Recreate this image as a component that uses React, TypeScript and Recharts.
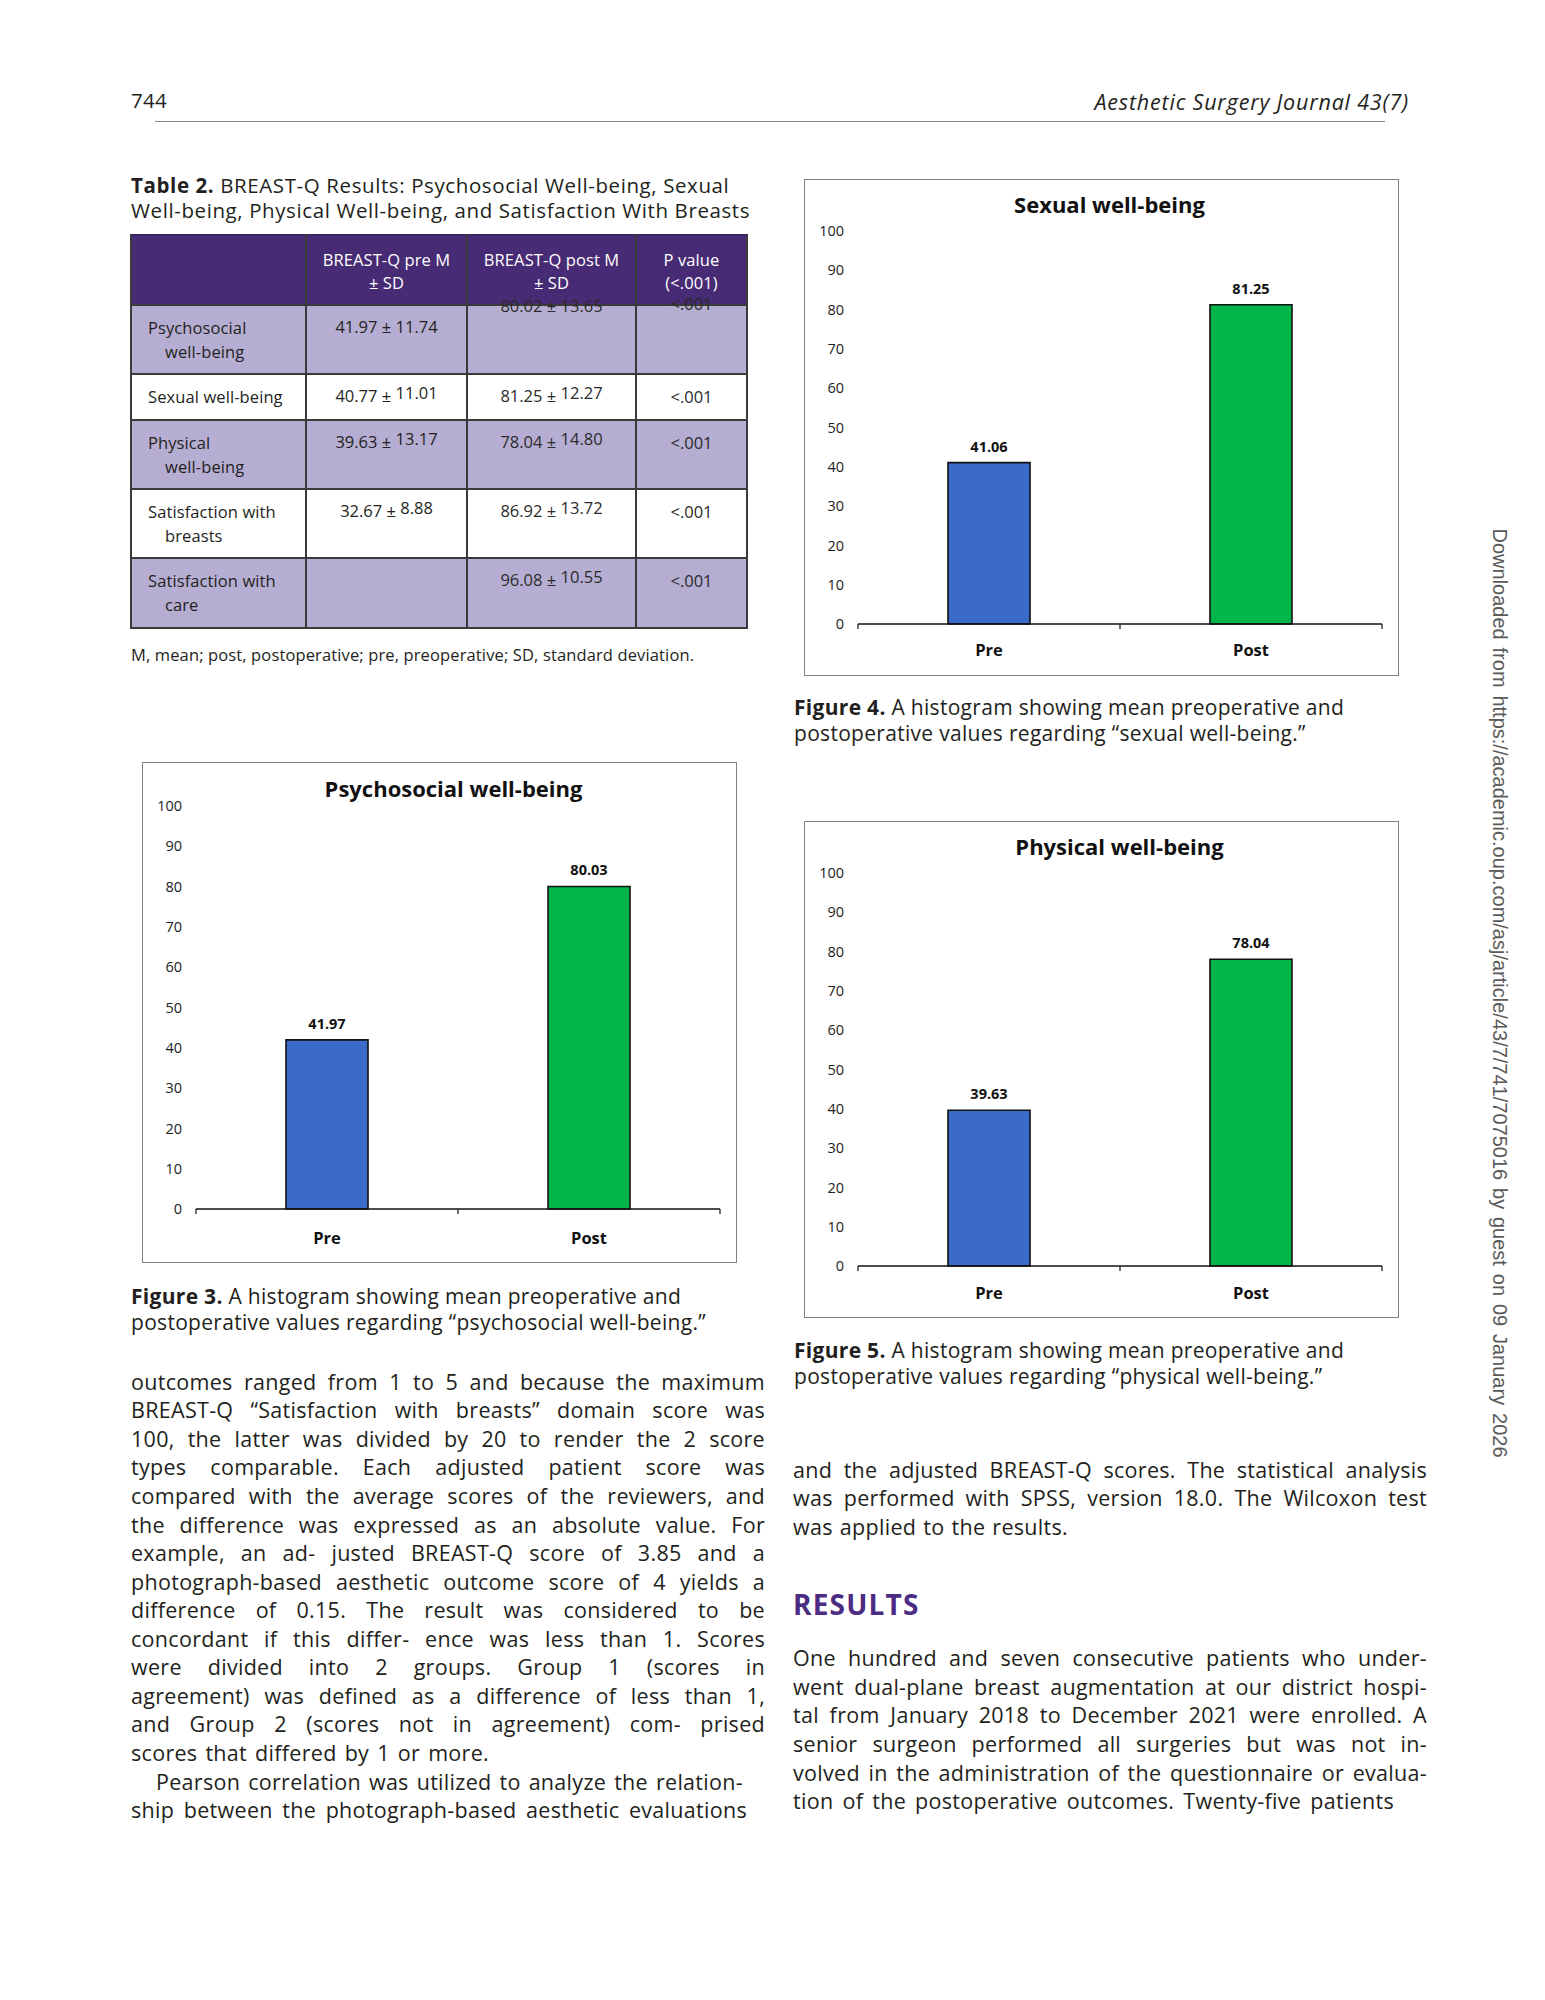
import React from "react";
import { BarChart, Bar, XAxis, YAxis, Cell, LabelList } from "recharts";

// Datos de las figuras
const categories = ["Pre", "Post"];
const psychosocialValues = [41.97, 80.03];
const sexualValues = [41.06, 81.25];
const physicalValues = [39.63, 78.04];
const yTicks = [0, 10, 20, 30, 40, 50, 60, 70, 80, 90, 100];
// bordes de categoría (enteros) y centros de categoría (medios)
const xTicks = [0, 0.5, 1, 1.5, 2];
const barColors = ["#3b6bc9", "#00b54a"];

// Datos de la tabla 2
const tableHeaders = [
  [],
  ["BREAST-Q pre M", "± SD"],
  ["BREAST-Q post M", "± SD"],
  ["P value", "(<.001)"],
];
const rowLabels = [
  ["Psychosocial", "well-being"],
  ["Sexual well-being"],
  ["Physical", "well-being"],
  ["Satisfaction with", "breasts"],
  ["Satisfaction with", "care"],
];
const preMeans = ["41.97", "40.77", "39.63", "32.67", ""];
const preSDs = ["11.74", "11.01", "13.17", "8.88", ""];
const postMeans = ["80.02", "81.25", "78.04", "86.92", "96.08"];
const postSDs = ["13.65", "12.27", "14.80", "13.72", "10.55"];
const pValues = ["<.001", "<.001", "<.001", "<.001", "<.001"];

// Texto del artículo
const leftColumnLines = [
  "outcomes ranged from 1 to 5 and because the maximum",
  "BREAST-Q “Satisfaction with breasts” domain score was",
  "100, the latter was divided by 20 to render the 2 score",
  "types comparable. Each adjusted patient score was",
  "compared with the average scores of the reviewers, and",
  "the difference was expressed as an absolute value. For",
  "example, an ad- justed BREAST-Q score of 3.85 and a",
  "photograph-based aesthetic outcome score of 4 yields a",
  "difference of 0.15. The result was considered to be",
  "concordant if this differ- ence was less than 1. Scores",
  "were divided into 2 groups. Group 1 (scores in",
  "agreement) was defined as a difference of less than 1,",
  "and Group 2 (scores not in agreement) com- prised",
  "scores that differed by 1 or more.",
  "Pearson correlation was utilized to analyze the relation-",
  "ship between the photograph-based aesthetic evaluations",
];
const rightTopLines = [
  "and the adjusted BREAST-Q scores. The statistical analysis",
  "was performed with SPSS, version 18.0. The Wilcoxon test",
  "was applied to the results.",
];
const resultsLines = [
  "One hundred and seven consecutive patients who under-",
  "went dual-plane breast augmentation at our district hospi-",
  "tal from January 2018 to December 2021 were enrolled. A",
  "senior surgeon performed all surgeries but was not in-",
  "volved in the administration of the questionnaire or evalua-",
  "tion of the postoperative outcomes. Twenty-five patients",
];

const PAGE_FONT = "'Open Sans', Roboto, sans-serif";
const CHART_FONT = "'Open Sans', 'Noto Sans', sans-serif";
const TEXT = "#231f20";
const FRAME_W = 595;

type TextLineProps = {
  x: number;
  y: number;
  w?: number;
  size?: number;
  spacing?: number;
  justify?: boolean;
  align?: "left" | "center" | "right";
  style?: React.CSSProperties;
  children?: React.ReactNode;
};

// Una línea de texto centrada verticalmente en y
const TextLine: React.FC<TextLineProps> = ({
  x,
  y,
  w = 634,
  size = 21.5,
  spacing = 0.3,
  justify = false,
  align = "left",
  style,
  children,
}) => (
  <div
    style={{
      position: "absolute",
      left: x,
      top: y - size * 0.7,
      width: w,
      height: size * 1.4,
      lineHeight: `${size * 1.4}px`,
      fontSize: size,
      letterSpacing: spacing,
      fontFamily: PAGE_FONT,
      color: TEXT,
      whiteSpace: "nowrap",
      textAlign: justify ? "justify" : align,
      textAlignLast: justify ? "justify" : align,
      ...style,
    }}
  >
    {children}
  </div>
);

type ChartProps = {
  title: string;
  values: number[];
  left: number;
  top: number;
  height: number;
  plotTop: number;
  plotBottom: number;
  titleX: number;
  titleY: number;
  labelGap: number;
};

// Tick del eje X: marca corta en los bordes, etiqueta en los centros
const CategoryTick = (props: any) => {
  const { x, y, payload, labelGap } = props;
  const v = payload.value;
  if (Number.isInteger(v)) {
    return (
      <line x1={x} x2={x} y1={y} y2={y + 5} stroke="#111" strokeWidth={1.2} />
    );
  }
  return (
    <text
      x={x}
      y={y + labelGap}
      dy="0.71em"
      textAnchor="middle"
      fill="#111"
      fontSize={16.5}
      fontWeight={700}
      fontFamily={CHART_FONT}
    >
      {categories[Math.floor(v)]}
    </text>
  );
};

const WellBeingChart: React.FC<ChartProps> = (p) => {
  const data = categories.map((name, i) => ({
    name,
    value: p.values[i],
    pos: i + 0.5,
  }));

  return (
    <div
      style={{
        position: "absolute",
        left: p.left,
        top: p.top,
        width: FRAME_W,
        height: p.height,
        background: "#fff",
      }}
    >
      <BarChart
        width={FRAME_W}
        height={p.height}
        data={data}
        margin={{ top: p.plotTop, right: 17, bottom: 0, left: 0 }}
      >
        <XAxis
          type="number"
          dataKey="pos"
          domain={[0, 2]}
          ticks={xTicks}
          interval={0}
          allowDataOverflow
          tickLine={false}
          tickSize={0}
          tickMargin={0}
          height={p.height - p.plotBottom}
          axisLine={{ stroke: "#111", strokeWidth: 1.6 }}
          tick={(tp: any) => <CategoryTick {...tp} labelGap={p.labelGap} />}
        />
        <YAxis
          type="number"
          domain={[0, 100]}
          ticks={yTicks}
          interval={0}
          width={54}
          axisLine={false}
          tickLine={false}
          tickSize={6}
          tickMargin={8}
          tick={{ fill: "#222", fontSize: 14.5, fontFamily: CHART_FONT }}
        />
        <Bar
          dataKey="value"
          barSize={82}
          stroke="#111"
          strokeWidth={1.6}
          isAnimationActive={false}
        >
          {data.map((d, i) => (
            <Cell key={d.name} fill={barColors[i]} />
          ))}
          <LabelList
            dataKey="value"
            position="top"
            offset={11}
            formatter={(v: any) => Number(v).toFixed(2)}
            style={{
              fill: "#111",
              fontSize: 14.5,
              fontWeight: 700,
              fontFamily: CHART_FONT,
            }}
          />
        </Bar>
      </BarChart>
      <div
        style={{
          position: "absolute",
          left: p.titleX - 200,
          top: p.titleY - 15,
          width: 400,
          lineHeight: "30px",
          textAlign: "center",
          fontFamily: CHART_FONT,
          fontWeight: 700,
          fontSize: 22,
          color: "#111",
        }}
      >
        {p.title}
      </div>
      <div
        style={{
          position: "absolute",
          inset: 0,
          boxSizing: "border-box",
          border: "1.5px solid #808080",
          pointerEvents: "none",
        }}
      />
    </div>
  );
};

// Tabla 2 dibujada con celdas absolutas
const colX = [131, 306, 467, 636, 747];
const rowY = [235, 305, 374, 420, 489, 558, 628];
const rowFills = ["#b6aed2", "#ffffff", "#b6aed2", "#ffffff", "#b6aed2"];

const ValueText: React.FC<{ mean: string; sd: string; raised: boolean }> = ({
  mean,
  sd,
  raised,
}) =>
  mean ? (
    <>
      {mean} ±{" "}
      <span style={{ position: "relative", top: raised ? -3 : 0 }}>{sd}</span>
    </>
  ) : null;

const ResultsTable: React.FC = () => {
  const cellSize = 16.5;
  return (
    <>
      <div
        style={{
          position: "absolute",
          left: colX[0],
          top: rowY[0],
          width: colX[4] - colX[0],
          height: rowY[1] - rowY[0],
          background: "#472b74",
        }}
      />
      {rowFills.map((fill, i) => (
        <div
          key={`fill-${i}`}
          style={{
            position: "absolute",
            left: colX[0],
            top: rowY[i + 1],
            width: colX[4] - colX[0],
            height: rowY[i + 2] - rowY[i + 1],
            background: fill,
          }}
        />
      ))}
      {rowY.map((y, i) => (
        <div
          key={`h-${i}`}
          style={{
            position: "absolute",
            left: colX[0] - 1,
            top: y - 1,
            width: colX[4] - colX[0] + 2,
            height: 2,
            background: i === 0 ? "#3b2560" : "#3a3a3a",
          }}
        />
      ))}
      {colX.map((x, i) => (
        <div
          key={`v-${i}`}
          style={{
            position: "absolute",
            left: x - 0.75,
            top: rowY[0],
            width: 1.5,
            height: rowY[6] - rowY[0],
            background: "#3a3a3a",
          }}
        />
      ))}
      {tableHeaders.map((lines, c) =>
        lines.map((t, k) => (
          <TextLine
            key={`hd-${c}-${k}`}
            x={colX[c]}
            w={colX[c + 1] - colX[c]}
            y={260 + k * 23}
            size={cellSize}
            spacing={0.1}
            align="center"
            style={{ color: "#ffffff" }}
          >
            {t}
          </TextLine>
        ))
      )}
      {rowLabels.map((lines, r) =>
        lines.map((t, k) => (
          <TextLine
            key={`lb-${r}-${k}`}
            x={colX[0] + (k === 0 ? 17 : 34)}
            w={160}
            y={rowY[r + 1] + 23 + k * 23.5}
            size={cellSize}
            spacing={0.1}
          >
            {t}
          </TextLine>
        ))
      )}
      {rowLabels.map((_, r) => {
        const y = rowY[r + 1] + 22;
        const glitch = r === 0;
        return (
          <React.Fragment key={`vals-${r}`}>
            <TextLine
              x={colX[1]}
              w={colX[2] - colX[1]}
              y={y}
              size={cellSize}
              spacing={0}
              align="center"
            >
              <ValueText mean={preMeans[r]} sd={preSDs[r]} raised={r > 0} />
            </TextLine>
            <TextLine
              x={colX[2]}
              w={colX[3] - colX[2]}
              y={glitch ? rowY[1] + 1 : y}
              size={cellSize}
              spacing={0}
              align="center"
              style={{ color: "#2a2a2a" }}
            >
              <ValueText mean={postMeans[r]} sd={postSDs[r]} raised={r > 0} />
            </TextLine>
            <TextLine
              x={colX[3]}
              w={colX[4] - colX[3]}
              y={glitch ? rowY[1] - 1 : y + 1}
              size={cellSize}
              spacing={0}
              align="center"
              style={{ color: "#2a2a2a" }}
            >
              {pValues[r]}
            </TextLine>
          </React.Fragment>
        );
      })}
    </>
  );
};

const chartConfigs: ChartProps[] = [
  {
    title: "Psychosocial well-being",
    values: psychosocialValues,
    left: 141.5,
    top: 762,
    height: 501,
    plotTop: 44,
    plotBottom: 447,
    titleX: 312,
    titleY: 26,
    labelGap: 23,
  },
  {
    title: "Sexual well-being",
    values: sexualValues,
    left: 803.5,
    top: 178.5,
    height: 497,
    plotTop: 52,
    plotBottom: 445,
    titleX: 306,
    titleY: 25,
    labelGap: 20,
  },
  {
    title: "Physical well-being",
    values: physicalValues,
    left: 803.5,
    top: 821,
    height: 497,
    plotTop: 52,
    plotBottom: 445,
    titleX: 316,
    titleY: 25,
    labelGap: 21,
  },
];

const Caption: React.FC<{ x: number; y: number; n: number; topic: string }> = ({
  x,
  y,
  n,
  topic,
}) => (
  <>
    <TextLine x={x} y={y} w={620} size={21}>
      <b>Figure {n}.</b> A histogram showing mean preoperative and
    </TextLine>
    <TextLine x={x} y={y + 26} w={620} size={21}>
      postoperative values regarding “{topic}.”
    </TextLine>
  </>
);

// anchos medidos de las líneas finales de párrafo (no justificadas)
const leftLastWidths: Record<number, [number, number]> = {
  13: [131, 358],
  14: [156, 587],
  15: [131, 616],
};

export default function App() {
  return (
    <div
      style={{
        position: "absolute",
        left: 0,
        top: 0,
        width: 1545,
        height: 2000,
        background: "#ffffff",
        overflow: "hidden",
      }}
    >
      {/* Cabecera */}
      <TextLine x={131} y={100} size={20.5}>
        744
      </TextLine>
      <TextLine
        x={909}
        y={102}
        w={500}
        size={21.5}
        spacing={0.8}
        align="right"
        style={{ fontStyle: "italic" }}
      >
        Aesthetic Surgery Journal 43(7)
      </TextLine>
      <div
        style={{
          position: "absolute",
          left: 155,
          top: 120.5,
          width: 1230,
          height: 1.5,
          background: "#8a8a8a",
        }}
      />

      {/* Tabla */}
      <TextLine x={131} y={185} w={620} size={20.5} spacing={0.6}>
        <b>Table 2.</b> BREAST-Q Results: Psychosocial Well-being, Sexual
      </TextLine>
      <TextLine x={131} y={210} w={620} size={20.5} spacing={0.6}>
        Well-being, Physical Well-being, and Satisfaction With Breasts
      </TextLine>
      <ResultsTable />
      <TextLine x={131} y={655} w={620} size={16.5} spacing={0.13}>
        M, mean; post, postoperative; pre, preoperative; SD, standard deviation.
      </TextLine>

      {/* Figuras */}
      {chartConfigs.map((c) => (
        <WellBeingChart key={c.title} {...c} />
      ))}
      <Caption x={131} y={1297} n={3} topic="psychosocial well-being" />
      <Caption x={794} y={708} n={4} topic="sexual well-being" />
      <Caption x={794} y={1351} n={5} topic="physical well-being" />

      {/* Columna izquierda */}
      {leftColumnLines.map((t, i) => {
        const last = leftLastWidths[i];
        return (
          <TextLine
            key={`l-${i}`}
            x={last ? last[0] : 131}
            w={last ? last[1] : 634}
            y={1381.7 + i * 28.57}
            justify
          >
            {t}
          </TextLine>
        );
      })}

      {/* Columna derecha */}
      {rightTopLines.map((t, i) => (
        <TextLine
          key={`r-${i}`}
          x={793}
          w={i < 2 ? 634 : 275}
          y={1470 + i * 28.5}
          justify
        >
          {t}
        </TextLine>
      ))}
      <TextLine
        x={793}
        y={1605}
        size={28}
        spacing={1.2}
        style={{ color: "#4b2c82", fontWeight: 700 }}
      >
        RESULTS
      </TextLine>
      {resultsLines.map((t, i) => (
        <TextLine
          key={`res-${i}`}
          x={793}
          w={i < 5 ? 634 : 601}
          y={1658.3 + i * 28.6}
          justify
        >
          {t}
        </TextLine>
      ))}

      {/* Texto vertical */}
      <div
        style={{
          position: "absolute",
          left: 1499 - 929 / 2,
          top: 992.5 - 12,
          width: 929,
          height: 24,
          lineHeight: "24px",
          transform: "rotate(90deg)",
          transformOrigin: "50% 50%",
          fontFamily: "'Liberation Sans', Arial, sans-serif",
          fontSize: 20,
          color: "#5a5a5a",
          whiteSpace: "nowrap",
          textAlign: "justify",
          textAlignLast: "justify",
        }}
      >
        Downloaded from https://academic.oup.com/asj/article/43/7/741/7075016 by
        guest on 09 January 2026
      </div>
    </div>
  );
}
